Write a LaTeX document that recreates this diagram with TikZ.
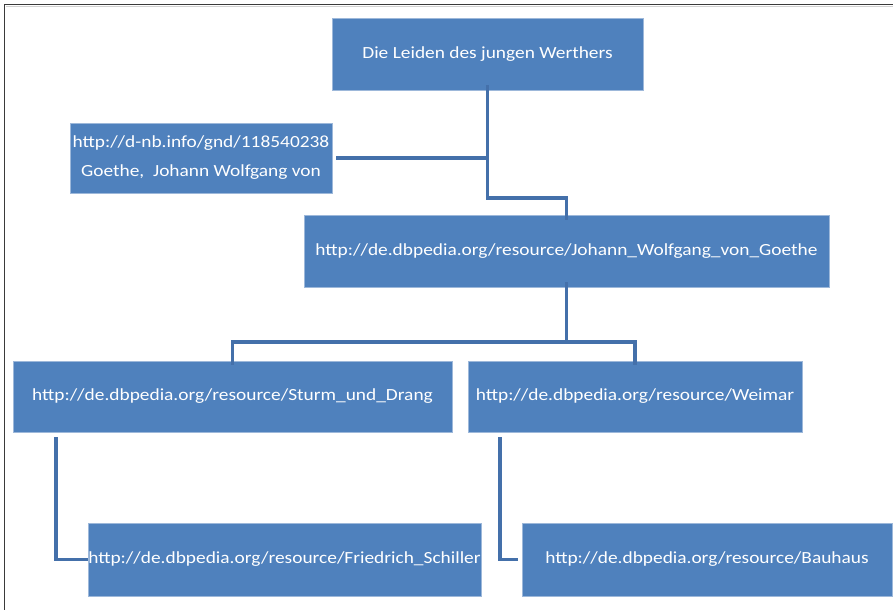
\documentclass[tikz,border=0pt]{standalone}
\usepackage{fontspec}
\setmainfont{Carlito}[FakeStretch=1.14]
\definecolor{boxblue}{HTML}{4F81BD}
\definecolor{boxedge}{HTML}{9DB8DA}
\definecolor{linkblue}{HTML}{4470AA}
\definecolor{frame}{HTML}{3A3A3A}
\begin{document}
\begin{tikzpicture}[x=1pt,y=-1pt,
  box/.style={fill=boxblue,draw=boxedge,line width=0.8pt,text=white,font=\fontsize{17}{20}\selectfont,inner sep=0pt},
  link/.style={draw=linkblue,line width=3.6pt}]
\useasboundingbox (0,0) rectangle (894,610);
\draw[frame,line width=1.8pt] (4.5,610) -- (4.5,4.5) -- (893,4.5);
\draw[black!18,line width=1pt] (6,6.5) -- (893,6.5);
% boxes
\node[box,minimum width=311pt,minimum height=72pt] (wer) at (487.5,54) {Die Leiden des jungen Werthers};
\node[box,minimum width=262pt,minimum height=70pt,align=center] (gnd) at (201,158)
  {http://d-nb.info/gnd/118540238\\[9pt]Goethe,\ \ Johann Wolfgang von};
\node[box,minimum width=525pt,minimum height=72pt] (goe) at (566.5,251) {http://de.dbpedia.org/resource/Johann\_Wolfgang\_von\_Goethe};
\node[box,minimum width=439pt,minimum height=71pt] (stu) at (232.5,396.5) {http://de.dbpedia.org/resource/Sturm\_und\_Drang};
\node[box,minimum width=334pt,minimum height=71pt] (wei) at (635,396.5) {http://de.dbpedia.org/resource/Weimar};
\node[box,minimum width=393pt,minimum height=73pt] (sch) at (284.5,559.5) {http://de.dbpedia.org/resource/Friedrich\_Schiller};
\node[box,minimum width=370pt,minimum height=73pt] (bau) at (707,559.5) {http://de.dbpedia.org/resource/Bauhaus};
% connectors
\coordinate (j1) at (487.5,198);
\coordinate (j2) at (566.5,198);
\draw[link] ([yshift=5pt]wer.south) -- (j1) -- (j2) -- ([yshift=-5pt]goe.north);
\draw[link] ([xshift=4pt]gnd.east) -- (j1 |- gnd.east);
\coordinate (k1) at (566.5,342);
\draw[link] ([yshift=5pt]goe.south) -- (k1);
\draw[link] ([yshift=-4pt]stu.north) -- (stu.north |- k1) -- (wei.north |- k1) -- ([yshift=-4pt]wei.north);
\coordinate (s1) at (56,437);
\coordinate (b1) at (500,437);
\draw[link] (s1) -- (s1 |- sch.west) -- (sch.west);
\draw[link] (b1) -- (b1 |- bau.west) -- ([xshift=-4pt]bau.west);
\end{tikzpicture}
\end{document}
